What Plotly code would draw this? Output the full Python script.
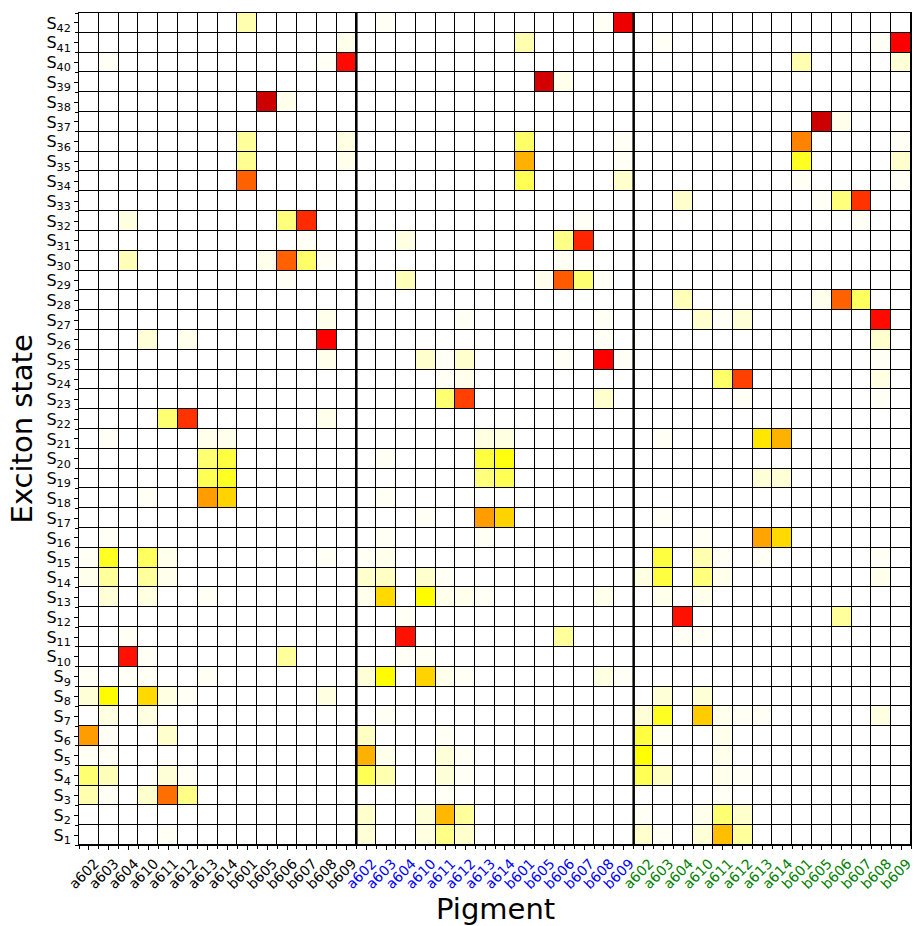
import plotly.graph_objects as go

# ---------------- data ----------------
pigments = ["a602", "a603", "a604", "a610", "a611", "a612", "a613", "a614",
            "b601", "b605", "b606", "b607", "b608", "b609"]
group_colors = ["black", "blue", "green"]
n_states = 42

# squared exciton coefficients, group 1 (black labels): {state: {pigment: value}}
group1 = {
    42: {"b601": 0.08},
    41: {"b609": 0.02},
    40: {"a603": 0.01, "b608": 0.01, "b609": 0.62},
    38: {"b605": 0.71, "b606": 0.02},
    36: {"b601": 0.10, "b609": 0.03},
    35: {"b601": 0.11, "b609": 0.02},
    34: {"b601": 0.49},
    32: {"a604": 0.03, "b606": 0.13, "b607": 0.57},
    31: {"b607": 0.01},
    30: {"a604": 0.07, "b605": 0.02, "b606": 0.49, "b607": 0.15, "b608": 0.01},
    29: {"b606": 0.01},
    27: {"b608": 0.02},
    26: {"a610": 0.04, "a612": 0.02, "b608": 0.64},
    25: {"b608": 0.02},
    22: {"a611": 0.14, "a612": 0.56, "b608": 0.02},
    21: {"a603": 0.01, "a613": 0.02, "a614": 0.02},
    20: {"a613": 0.14, "a614": 0.19},
    19: {"a613": 0.17, "a614": 0.22},
    18: {"a610": 0.01, "a613": 0.40, "a614": 0.32},
    16: {"a603": 0.01},
    15: {"a602": 0.01, "a603": 0.22, "a610": 0.16, "a611": 0.02, "b608": 0.01},
    14: {"a602": 0.02, "a603": 0.10, "a610": 0.10, "a611": 0.02},
    13: {"a603": 0.04, "a610": 0.03, "a613": 0.01},
    11: {"a604": 0.01},
    10: {"a604": 0.61, "a610": 0.01, "b606": 0.10},
    9: {"a602": 0.01, "a604": 0.01, "a610": 0.01, "a613": 0.01},
    8: {"a602": 0.04, "a603": 0.26, "a610": 0.31, "a611": 0.03, "a612": 0.01, "b608": 0.03},
    7: {"a603": 0.03, "a610": 0.03},
    6: {"a602": 0.40, "a603": 0.01, "a611": 0.05},
    5: {"a602": 0.01, "a603": 0.01},
    4: {"a602": 0.14, "a603": 0.07, "a611": 0.04, "a612": 0.01},
    3: {"a602": 0.08, "a603": 0.01, "a610": 0.05, "a611": 0.47, "a612": 0.12},
    1: {"a611": 0.01},
}

# group 2 (blue labels)
group2 = {
    42: {"a603": 0.01, "b608": 0.01, "b609": 0.66},
    41: {"b601": 0.08},
    39: {"b605": 0.70, "b606": 0.02},
    36: {"b601": 0.15, "b609": 0.01},
    35: {"b601": 0.37, "b609": 0.01},
    34: {"b601": 0.17, "b609": 0.05},
    32: {"b607": 0.01},
    31: {"a604": 0.03, "b606": 0.12, "b607": 0.58},
    30: {"b606": 0.01},
    29: {"a604": 0.07, "b605": 0.02, "b606": 0.50, "b607": 0.14, "b608": 0.01},
    27: {"a612": 0.01, "b608": 0.01},
    26: {"b608": 0.01},
    25: {"a610": 0.05, "a611": 0.01, "a612": 0.05, "b606": 0.01, "b608": 0.64, "b609": 0.01},
    24: {"a611": 0.01, "a612": 0.02},
    23: {"a611": 0.14, "a612": 0.54, "b608": 0.05},
    21: {"a613": 0.03, "a614": 0.03},
    20: {"a603": 0.01, "a613": 0.19, "a614": 0.24},
    19: {"a613": 0.13, "a614": 0.17},
    18: {"a603": 0.01},
    17: {"a610": 0.01, "a613": 0.40, "a614": 0.32},
    16: {"a603": 0.01, "a613": 0.01},
    15: {"a602": 0.01, "a603": 0.02},
    14: {"a602": 0.05, "a603": 0.06, "a610": 0.05, "a611": 0.01},
    13: {"a602": 0.02, "a603": 0.31, "a610": 0.26, "a611": 0.02, "a612": 0.02, "a613": 0.01, "b608": 0.02},
    12: {"a604": 0.01},
    11: {"a604": 0.61, "b606": 0.10},
    10: {"a604": 0.01, "a610": 0.01},
    9: {"a602": 0.04, "a603": 0.26, "a610": 0.32, "a611": 0.02, "a612": 0.01, "b608": 0.03, "b609": 0.01},
    7: {"a603": 0.01},
    6: {"a602": 0.06, "a611": 0.01},
    5: {"a602": 0.37, "a603": 0.02, "a611": 0.04, "a612": 0.01},
    4: {"a602": 0.17, "a603": 0.08, "a611": 0.04, "a612": 0.01},
    3: {"a611": 0.01},
    2: {"a602": 0.05, "a610": 0.04, "a611": 0.36, "a612": 0.10},
    1: {"a602": 0.04, "a610": 0.03, "a611": 0.12, "a612": 0.05},
}

# group 3 (green labels)
group3 = {
    41: {"a603": 0.01, "b608": 0.01, "b609": 0.64},
    40: {"b601": 0.08, "b609": 0.04},
    37: {"b605": 0.71, "b606": 0.02},
    36: {"b601": 0.44, "b609": 0.01},
    35: {"b601": 0.22, "b609": 0.05},
    34: {"b601": 0.01, "b609": 0.01},
    33: {"a604": 0.05, "b605": 0.01, "b606": 0.13, "b607": 0.56},
    32: {"b607": 0.01},
    28: {"a604": 0.07, "b605": 0.02, "b606": 0.49, "b607": 0.16},
    27: {"a610": 0.05, "a611": 0.01, "a612": 0.04, "b608": 0.62},
    26: {"b608": 0.05},
    25: {"b608": 0.01},
    24: {"a611": 0.15, "a612": 0.54, "b608": 0.03},
    23: {"a612": 0.01, "b608": 0.01},
    21: {"a603": 0.01, "a613": 0.29, "a614": 0.37},
    19: {"a613": 0.04, "a614": 0.04},
    17: {"a603": 0.01},
    16: {"a610": 0.01, "a613": 0.39, "a614": 0.31},
    15: {"a603": 0.19, "a610": 0.08, "a611": 0.01, "a613": 0.01, "b608": 0.01},
    14: {"a602": 0.03, "a603": 0.19, "a610": 0.13, "a611": 0.02, "b608": 0.02},
    13: {"a603": 0.02, "a610": 0.02},
    12: {"a604": 0.61, "b606": 0.10},
    11: {"a604": 0.01, "a610": 0.01},
    8: {"a603": 0.04, "a610": 0.04},
    7: {"a602": 0.04, "a603": 0.22, "a610": 0.33, "a611": 0.02, "a612": 0.01, "a613": 0.01, "b608": 0.03},
    6: {"a602": 0.19, "a603": 0.01, "a611": 0.02},
    5: {"a602": 0.25, "a611": 0.02},
    4: {"a602": 0.17, "a603": 0.06, "a611": 0.02, "a612": 0.01},
    3: {"a611": 0.01},
    2: {"a602": 0.01, "a610": 0.02, "a611": 0.14, "a612": 0.05},
    1: {"a602": 0.05, "a603": 0.01, "a610": 0.04, "a611": 0.35, "a612": 0.10},
}

groups = [group1, group2, group3]

# ---------------- build matrix ----------------
n_p = len(pigments)
n_cols = n_p * len(groups)
z = [[0.0] * n_cols for _ in range(n_states)]
for g, grp in enumerate(groups):
    for s, row in grp.items():
        for p, v in row.items():
            z[s - 1][g * n_p + pigments.index(p)] = v

xs = list(range(n_cols))
ys = list(range(1, n_states + 1))

# matplotlib "hot_r"
hot_r = [[0.0, "#ffffff"], [0.253968, "#ffff00"], [0.634921, "#ff0000"], [1.0, "#0b0000"]]

fig = go.Figure(go.Heatmap(
    z=z, x=xs, y=ys, colorscale=hot_r, zmin=0, zmax=1,
    showscale=False, xgap=1, ygap=1,
))

ticktext_x = [f'<span style="color:{group_colors[g]}">{p}</span>'
              for g in range(len(groups)) for p in pigments]
ticktext_y = [f"S<sub>{s}</sub>" for s in ys]

font = "DejaVu Sans"
fig.update_xaxes(
    range=[-0.5, n_cols - 0.5], tickvals=xs, ticktext=ticktext_x, tickangle=-45,
    ticklabelshift=6, ticklabeloverflow="allow",
    showgrid=False, zeroline=False, showline=True, linecolor="black", linewidth=1,
    mirror=True, ticks="outside", ticklen=4, tickcolor="black",
    tickfont=dict(family=font, size=14, color="black"),
    minor=dict(tickvals=[i - 0.5 for i in range(n_cols + 1)], ticks="outside",
               ticklen=3, tickcolor="black", showgrid=False),
)
fig.update_yaxes(
    range=[0.5, n_states + 0.5], tickvals=ys, ticktext=ticktext_y,
    ticklabeloverflow="allow",
    showgrid=False, zeroline=False, showline=True, linecolor="black", linewidth=1,
    mirror=True, ticks="outside", ticklen=4, tickcolor="black",
    tickfont=dict(family=font, size=16, color="black"),
    minor=dict(tickvals=[i + 0.5 for i in range(n_states + 1)], ticks="outside",
               ticklen=3, tickcolor="black", showgrid=False),
)

# thick separators between the groups
for g in range(1, len(groups)):
    xb = g * n_p - 0.5
    fig.add_shape(type="line", xref="x", yref="paper", x0=xb, x1=xb, y0=0, y1=1,
                  line=dict(color="black", width=2.5))

fig.add_annotation(text="Pigment", xref="paper", yref="paper", x=0.5, y=-0.077,
                   showarrow=False, yanchor="middle",
                   font=dict(family=font, size=29, color="black"))
fig.add_annotation(text="Exciton state", xref="paper", yref="paper", x=-0.068, y=0.5,
                   textangle=-90, showarrow=False, xanchor="center",
                   font=dict(family=font, size=29, color="black"))

fig.update_layout(
    width=914, height=926,
    margin=dict(l=79, r=3, t=13, b=81, autoexpand=False),
    paper_bgcolor="white", plot_bgcolor="black",
    font=dict(family=font),
)

fig.write_html("out.html")
